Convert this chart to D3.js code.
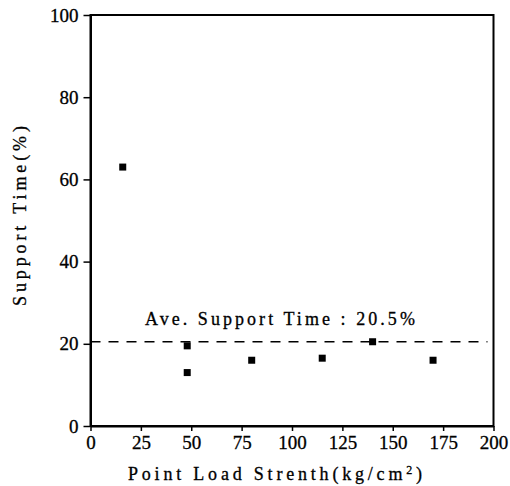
<!DOCTYPE html>
<meta charset="utf-8">
<style>
body { margin: 0; background: #fff; }
</style>
<svg width="510" height="486"></svg>
<script src="https://cdn.jsdelivr.net/npm/d3@7"></script>
<script>

// values
var strength = [16, 48, 48, 80, 115, 140, 170];
var supportTime = [63, 19.5, 13, 16, 16.5, 20.5, 16];
var xTicks = [0, 25, 50, 75, 100, 125, 150, 175, 200];
var yTicks = [0, 20, 40, 60, 80, 100];
var average = 20.5;

var serif = "'Liberation Serif', 'Times New Roman', serif";

var svg = d3.select("svg");

var x = d3.scaleLinear().domain([0, 200]).range([90.5, 493.5]);
var y = d3.scaleLinear().domain([0, 100]).range([426, 15]);

// frame
svg.append("rect")
  .attr("x", x(0))
  .attr("y", y(100))
  .attr("width", x(200) - x(0))
  .attr("height", y(0) - y(100))
  .attr("fill", "none")
  .attr("stroke", "#000")
  .attr("stroke-width", 2);

var xAxis = svg.append("g")
  .attr("transform", "translate(0," + y(0) + ")")
  .call(d3.axisBottom(x).tickValues(xTicks).tickSize(5).tickSizeOuter(0).tickPadding(5));

var yAxis = svg.append("g")
  .attr("transform", "translate(" + x(0) + ",0)")
  .call(d3.axisLeft(y).tickValues(yTicks).tickSize(7).tickSizeOuter(0).tickPadding(5));

[xAxis, yAxis].forEach(function(g) {
  g.select(".domain").attr("stroke-width", 2);
  g.selectAll(".tick line").attr("stroke-width", 1.5);
  g.selectAll(".tick text")
    .style("font-size", "19px")
    .style("font-family", serif)
    .attr("fill", "#000")
    .attr("stroke", "#000")
    .attr("stroke-width", 0.3);
});

// average line
svg.append("line")
  .attr("x1", x(0))
  .attr("x2", x(197))
  .attr("y1", y(average))
  .attr("y2", y(average))
  .attr("stroke", "#000")
  .attr("stroke-width", 1.6)
  .attr("stroke-dasharray", "10,8");

svg.append("text")
  .attr("x", x(27))
  .attr("y", y(24.6))
  .style("font-family", serif)
  .style("font-size", "18px")
  .attr("stroke", "#000")
  .attr("stroke-width", 0.3)
  .attr("textLength", 270)
  .attr("lengthAdjust", "spacing")
  .text("Ave. Support Time : " + average + "%");

// points
svg.append("g")
  .selectAll("rect")
  .data(strength)
  .enter().append("rect")
  .attr("x", function(d) { return x(d) - 3.5; })
  .attr("y", function(d, i) { return y(supportTime[i]) - 3.5; })
  .attr("width", 7)
  .attr("height", 7)
  .attr("fill", "#000");

// axis titles
var xt = svg.append("text")
  .attr("x", 128)
  .attr("y", 480)
  .style("font-family", serif)
  .style("font-size", "18px")
  .attr("stroke", "#000")
  .attr("stroke-width", 0.3)
  .attr("textLength", 294)
  .attr("lengthAdjust", "spacing");
xt.append("tspan").text("Point Load Strenth(kg/cm");
xt.append("tspan").style("font-size", "12px").attr("dy", -6).text("2");
xt.append("tspan").attr("dy", 6).text(")");

svg.append("text")
  .attr("transform", "translate(26," + 216 + ") rotate(-90)")
  .attr("text-anchor", "middle")
  .style("font-family", serif)
  .style("font-size", "18px")
  .attr("stroke", "#000")
  .attr("stroke-width", 0.3)
  .attr("textLength", 180)
  .attr("lengthAdjust", "spacing")
  .text("Support Time(%)");

</script>
